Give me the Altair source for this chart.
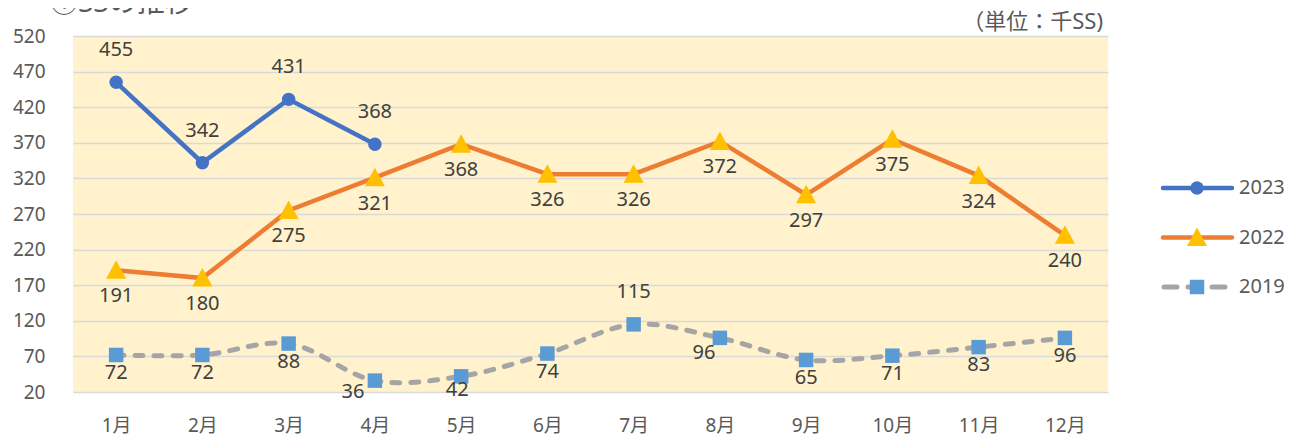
import altair as alt
import pandas as pd

months = ["1月", "2月", "3月", "4月", "5月", "6月", "7月", "8月", "9月", "10月", "11月", "12月"]
v2023 = [455, 342, 431, 368]
v2022 = [191, 180, 275, 321, 368, 326, 326, 372, 297, 375, 324, 240]
v2019 = [72, 72, 88, 36, 42, 74, 115, 96, 65, 71, 83, 96]
series = ["2023", "2022", "2019"]
y_ticks = list(range(20, 521, 50))
title_text = "①SSの推移"
unit_text = "（単位：千SS)"

FONT = "Noto Sans, Noto Sans CJK JP, sans-serif"
W, H = 1035, 356

d23 = pd.DataFrame({"month": months[:len(v2023)], "value": v2023, "series": "2023"})
d22 = pd.DataFrame({"month": months, "value": v2022, "series": "2022"})
d19 = pd.DataFrame({"month": months, "value": v2019, "series": "2019"})

xenc = alt.X("month:N", sort=months, scale=alt.Scale(domain=months, padding=0.5),
             axis=alt.Axis(title=None, labelAngle=0, ticks=False, domain=False, grid=False,
                           labelFont=FONT, labelFontSize=19, labelColor="#595959", labelPadding=24))
yenc = alt.Y("value:Q", scale=alt.Scale(domain=[20, 520], nice=False, zero=False),
             axis=alt.Axis(title=None, values=y_ticks, ticks=False, domain=False, grid=True,
                           gridColor="#D9D9D9", gridWidth=1.5,
                           labelFont=FONT, labelFontSize=19, labelColor="#595959", labelPadding=28))

def base(df):
    return alt.Chart(df).encode(x=xenc, y=yenc)

line19 = base(d19).mark_line(color="#A5A5A5", strokeWidth=5, strokeDash=[8, 11], strokeCap="round",
                             interpolate="catmull-rom")
pts19 = base(d19).mark_point(shape="square", size=210, filled=True, color="#5B9BD5", opacity=1)
line22 = base(d22).mark_line(color="#ED7D31", strokeWidth=4.5)
pts22 = base(d22).mark_point(shape="M0,-1L1,0.85L-1,0.85Z", size=400, filled=True, color="#FFC000", opacity=1)
line23 = base(d23).mark_line(color="#4472C4", strokeWidth=4.5)
pts23 = base(d23).mark_point(shape="circle", size=180, filled=True, color="#4472C4", opacity=1)

def labels(df, dy, dx=0):
    return base(df).mark_text(font=FONT, fontSize=20, color="#404040", baseline="middle",
                              dy=dy, dx=dx).encode(text="value:Q")

lab23 = labels(d23, -32)
lab22 = labels(d22, 26)
lab19_below = labels(d19, 18).transform_filter(
    "indexof(['4月','5月','7月','8月'], datum.month) < 0")
lab19_apr = labels(d19, 11, -22).transform_filter("datum.month == '4月'")
lab19_may = labels(d19, 14, -4).transform_filter("datum.month == '5月'")
lab19_above = labels(d19, -32).transform_filter("datum.month == '7月'")
lab19_left = labels(d19, 15, -16).transform_filter("datum.month == '8月'")

title = alt.Chart(pd.DataFrame({"t": [title_text]})).mark_text(
    font=FONT, fontSize=28, color="#595959", align="left", baseline="alphabetic"
).encode(text="t:N", x=alt.value(-23), y=alt.value(-24))
unit = alt.Chart(pd.DataFrame({"t": [unit_text]})).mark_text(
    font=FONT, fontSize=22, color="#595959", align="right", baseline="middle"
).encode(text="t:N", x=alt.value(1030), y=alt.value(-14))

# manual legend
leg = pd.DataFrame({"series": series})
ly = alt.Y("series:N", scale=alt.Scale(type="point", domain=series, range=[127.25, 275.75], padding=0.5), axis=None)
leg_base = alt.Chart(leg).encode(y=ly)
leg_rule_solid = leg_base.mark_rule(strokeWidth=4.5, strokeCap="round").encode(
    x=alt.value(1090), x2=alt.value(1159),
    color=alt.Color("series:N", scale=alt.Scale(domain=series, range=["#4472C4", "#ED7D31", "#A5A5A5"]), legend=None)
).transform_filter("datum.series != '2019'")
leg_rule_dash = leg_base.mark_rule(strokeWidth=5, strokeCap="round", strokeDash=[13, 11], color="#A5A5A5").encode(
    x=alt.value(1091), x2=alt.value(1160)
).transform_filter("datum.series == '2019'")
leg_c = leg_base.mark_point(shape="circle", size=180, filled=True, color="#4472C4", opacity=1).encode(
    x=alt.value(1124)).transform_filter("datum.series == '2023'")
leg_t = leg_base.mark_point(shape="M0,-1L1,0.85L-1,0.85Z", size=400, filled=True, color="#FFC000", opacity=1).encode(
    x=alt.value(1124)).transform_filter("datum.series == '2022'")
leg_s = leg_base.mark_point(shape="square", size=210, filled=True, color="#5B9BD5", opacity=1).encode(
    x=alt.value(1124)).transform_filter("datum.series == '2019'")
leg_text = leg_base.mark_text(font=FONT, fontSize=20, color="#595959", align="left", baseline="middle").encode(
    x=alt.value(1166), text="series:N")
legend = alt.layer(leg_rule_solid, leg_rule_dash, leg_c, leg_t, leg_s, leg_text)

main = alt.layer(line19, pts19, line22, pts22, line23, pts23,
                 lab23, lab22, lab19_below, lab19_apr, lab19_may, lab19_above, lab19_left, title, unit)

chart = alt.layer(main, legend).resolve_scale(y="independent").properties(
    width=W, height=H,
    autosize=alt.AutoSizeParams(type="none"),
    padding={"left": 65, "top": 28, "right": 184, "bottom": 44},
    background="white",
).configure_view(fill="#FFF2CC", stroke=None)

chart.save("out.html", embed_options={"renderer": "svg", "actions": False})
